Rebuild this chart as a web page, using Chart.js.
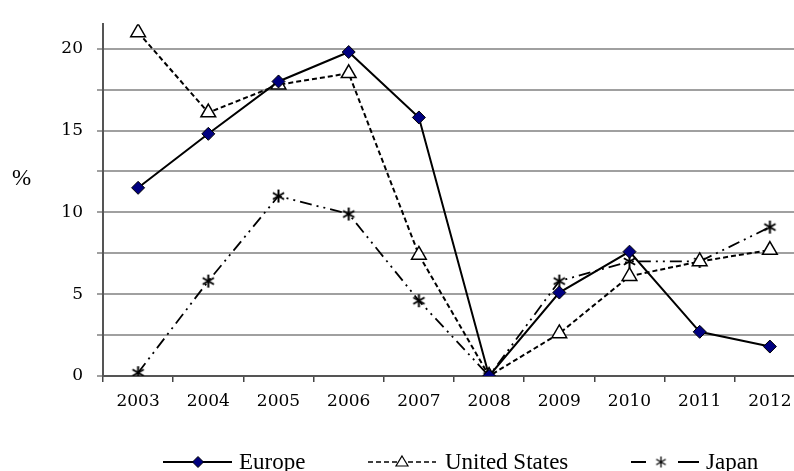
<!DOCTYPE html>
<html>
<head>
<meta charset="utf-8">
<script src="https://cdn.jsdelivr.net/npm/chart.js@4.4.1/dist/chart.umd.min.js"></script>
<style>
  html, body { margin: 0; padding: 0; background: #fff; overflow: hidden; }
  #myChart { display: block; }
</style>
</head>
<body>
<canvas id="myChart" width="794" height="471"></canvas>
<script>
const years = ["2003","2004","2005","2006","2007","2008","2009","2010","2011","2012"];
const europe = [11.5, 14.8, 18.0, 19.8, 15.8, 0, 5.1, 7.6, 2.7, 1.8];
const unitedStates = [21.0, 16.1, 17.8, 18.5, 7.4, 0, 2.6, 6.1, 7.0, 7.7];
const japan = [0.2, 5.8, 11.0, 9.9, 4.6, 0, 5.8, 7.0, 7.0, 9.1];

const serif = "'Liberation Serif', 'Times New Roman', serif";
const tickFont = "'DejaVu Serif', serif";

// six armed asterisk used for Japan
function makeStar(size, lw) {
  const c = document.createElement('canvas');
  c.width = size; c.height = size;
  const g = c.getContext('2d');
  const r = size / 2 - 1;
  g.strokeStyle = '#000';
  g.lineWidth = lw;
  g.beginPath();
  for (let a = 0; a < 3; a++) {
    const ang = Math.PI / 2 + a * Math.PI / 3;
    g.moveTo(size / 2 - r * Math.cos(ang), size / 2 - r * Math.sin(ang));
    g.lineTo(size / 2 + r * Math.cos(ang), size / 2 + r * Math.sin(ang));
  }
  g.stroke();
  return c;
}
const starImg = makeStar(15, 2);

const data = {
  labels: years,
  datasets: [{
    label: 'Europe',
    data: europe,
    borderColor: '#000',
    borderWidth: 2,
    pointStyle: 'rectRot',
    pointRadius: 6.5,
    pointBackgroundColor: '#000080',
    pointBorderColor: '#000',
    pointBorderWidth: 1,
    tension: 0
  },
  {
    label: 'United States',
    data: unitedStates,
    borderColor: '#000',
    borderWidth: 2,
    borderDash: [5, 3],
    pointStyle: 'triangle',
    pointRadius: 8.5,
    pointBackgroundColor: '#fff',
    pointBorderColor: '#000',
    pointBorderWidth: 1.5,
    tension: 0
  },
  {
    label: 'Japan',
    data: japan,
    borderColor: '#000',
    borderWidth: 1.8,
    borderDash: [12, 5, 2, 5, 2, 5],
    pointStyle: starImg,
    pointRadius: 7,
    tension: 0
  }]
};

function drawMarker(ctx, type, x, y) {
  ctx.save();
  ctx.setLineDash([]);
  ctx.strokeStyle = '#000';
  if (type === 'diamond') {
    ctx.fillStyle = '#000080';
    ctx.lineWidth = 1;
    ctx.beginPath();
    ctx.moveTo(x, y - 5.5); ctx.lineTo(x + 5.5, y); ctx.lineTo(x, y + 5.5); ctx.lineTo(x - 5.5, y);
    ctx.closePath(); ctx.fill(); ctx.stroke();
  } else if (type === 'triangle') {
    ctx.fillStyle = '#fff';
    ctx.lineWidth = 1.2;
    ctx.beginPath();
    ctx.moveTo(x, y - 6); ctx.lineTo(x + 6, y + 4); ctx.lineTo(x - 6, y + 4);
    ctx.closePath(); ctx.fill(); ctx.stroke();
  } else {
    ctx.drawImage(makeStar(13, 1.3), x - 6.5, y - 6.5);
  }
  ctx.restore();
}

// the original plot runs past the right edge of the picture
const widenPlot = {
  id: 'widenPlot',
  afterLayout(chart) {
    const ca = chart.chartArea;
    const x = chart.scales.x;
    ca.right = 805;
    ca.width = ca.right - ca.left;
    x.right = 805;
    x.width = x.right - x.left;
    x.configure();
  }
};

const extras = {
  id: 'extras',
  afterDraw(chart) {
    const ctx = chart.ctx;
    ctx.save();
    ctx.fillStyle = '#000';
    ctx.textBaseline = 'middle';
    ctx.textAlign = 'left';
    ctx.font = '23px ' + serif;
    ctx.fillText('%', 12, 179);

    const y = 462;
    ctx.strokeStyle = '#000';
    // Europe
    ctx.lineWidth = 2;
    ctx.beginPath(); ctx.moveTo(163, y); ctx.lineTo(232, y); ctx.stroke();
    drawMarker(ctx, 'diamond', 198, y);
    ctx.fillText('Europe', 239, y + 1);
    // United States
    ctx.lineWidth = 1.5;
    ctx.setLineDash([5, 3]);
    ctx.beginPath(); ctx.moveTo(368, y); ctx.lineTo(436, y); ctx.stroke();
    ctx.setLineDash([]);
    drawMarker(ctx, 'triangle', 402, y);
    ctx.fillText('United States', 445, y + 1);
    // Japan
    ctx.lineWidth = 2;
    ctx.beginPath();
    ctx.moveTo(631, y); ctx.lineTo(646, y);
    ctx.moveTo(678, y); ctx.lineTo(699, y);
    ctx.stroke();
    drawMarker(ctx, 'star', 661, y);
    ctx.fillText('Japan', 706, y + 1);
    ctx.restore();
  }
};

const config = {
  type: 'line',
  data: data,
  options: {
    responsive: false,
    animation: false,
    layout: { padding: { top: 20, right: 0, bottom: 0, left: 0 } },
    plugins: {
      legend: { display: false },
      tooltip: { enabled: false }
    },
    scales: {
      x: {
        offset: true,
        afterFit: s => { s.height = 95; },
        grid: { offset: true, drawOnChartArea: false, drawTicks: true, tickLength: 6, color: '#444', lineWidth: 1.5 },
        border: { display: true, color: '#555', width: 2 },
        ticks: { color: '#000', font: { family: tickFont, size: 17 }, padding: 9, maxRotation: 0 }
      },
      y: {
        min: 0,
        max: 21.5,
        afterFit: s => { s.width = 103; },
        grid: { color: '#a0a0a0', lineWidth: 2, tickLength: 6, drawTicks: true },
        border: { display: true, color: '#555', width: 2 },
        ticks: {
          stepSize: 2.5,
          includeBounds: false,
          color: '#000',
          font: { family: tickFont, size: 17 },
          padding: 14,
          callback: v => (v % 5 === 0 ? v : '')
        }
      }
    }
  },
  plugins: [widenPlot, extras]
};

const myChart = new Chart(document.getElementById('myChart'), config);
</script>
</body>
</html>
